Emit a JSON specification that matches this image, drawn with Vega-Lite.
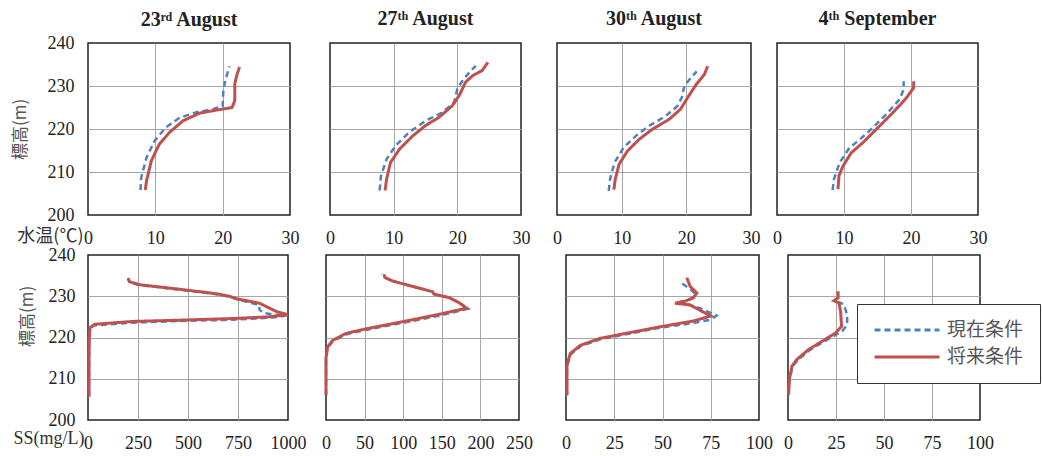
{
"$schema": "https://vega.github.io/schema/vega-lite/v6.json",
"padding": {"left": 10, "top": 8, "right": 2, "bottom": 2},
"background": "white",
"data": {"values": [
{"p":1,"c":"現在条件","o":1,"x":7.8,"z":205.8},{"p":1,"c":"現在条件","o":2,"x":7.9,"z":208.7},{"p":1,"c":"現在条件","o":3,"x":8.7,"z":213.4},{"p":1,"c":"現在条件","o":4,"x":9.9,"z":217.3},{"p":1,"c":"現在条件","o":5,"x":11.6,"z":220.4},{"p":1,"c":"現在条件","o":6,"x":13.6,"z":222.6},{"p":1,"c":"現在条件","o":7,"x":16.1,"z":223.9},{"p":1,"c":"現在条件","o":8,"x":18.6,"z":224.6},{"p":1,"c":"現在条件","o":9,"x":20.0,"z":225.4},{"p":1,"c":"現在条件","o":10,"x":20.1,"z":229.0},{"p":1,"c":"現在条件","o":11,"x":20.4,"z":231.3},{"p":1,"c":"現在条件","o":12,"x":21.0,"z":234.6},
{"p":1,"c":"将来条件","o":1,"x":8.5,"z":205.8},{"p":1,"c":"将来条件","o":2,"x":8.7,"z":208.0},{"p":1,"c":"将来条件","o":3,"x":9.4,"z":212.6},{"p":1,"c":"将来条件","o":4,"x":10.6,"z":216.5},{"p":1,"c":"将来条件","o":5,"x":12.1,"z":219.2},{"p":1,"c":"将来条件","o":6,"x":14.1,"z":221.9},{"p":1,"c":"将来条件","o":7,"x":16.6,"z":223.7},{"p":1,"c":"将来条件","o":8,"x":19.1,"z":224.4},{"p":1,"c":"将来条件","o":9,"x":21.4,"z":225.0},{"p":1,"c":"将来条件","o":10,"x":21.8,"z":226.6},{"p":1,"c":"将来条件","o":11,"x":21.8,"z":230.5},{"p":1,"c":"将来条件","o":12,"x":22.1,"z":232.5},{"p":1,"c":"将来条件","o":13,"x":22.5,"z":234.4},
{"p":2,"c":"現在条件","o":1,"x":7.8,"z":205.7},{"p":2,"c":"現在条件","o":2,"x":8.0,"z":209.1},{"p":2,"c":"現在条件","o":3,"x":8.9,"z":213.0},{"p":2,"c":"現在条件","o":4,"x":10.3,"z":216.1},{"p":2,"c":"現在条件","o":5,"x":12.4,"z":219.2},{"p":2,"c":"現在条件","o":6,"x":15.0,"z":221.9},{"p":2,"c":"現在条件","o":7,"x":17.7,"z":223.9},{"p":2,"c":"現在条件","o":8,"x":19.5,"z":226.2},{"p":2,"c":"現在条件","o":9,"x":20.0,"z":229.3},{"p":2,"c":"現在条件","o":10,"x":20.8,"z":231.2},{"p":2,"c":"現在条件","o":11,"x":21.9,"z":233.2},{"p":2,"c":"現在条件","o":12,"x":22.9,"z":234.7},
{"p":2,"c":"将来条件","o":1,"x":8.65,"z":205.7},{"p":2,"c":"将来条件","o":2,"x":8.9,"z":208.4},{"p":2,"c":"将来条件","o":3,"x":9.5,"z":212.2},{"p":2,"c":"将来条件","o":4,"x":10.9,"z":215.3},{"p":2,"c":"将来条件","o":5,"x":13.0,"z":218.4},{"p":2,"c":"将来条件","o":6,"x":15.0,"z":220.8},{"p":2,"c":"将来条件","o":7,"x":17.1,"z":222.7},{"p":2,"c":"将来条件","o":8,"x":19.2,"z":225.4},{"p":2,"c":"将来条件","o":9,"x":20.3,"z":227.8},{"p":2,"c":"将来条件","o":10,"x":21.3,"z":230.9},{"p":2,"c":"将来条件","o":11,"x":22.4,"z":232.4},{"p":2,"c":"将来条件","o":12,"x":23.9,"z":233.6},{"p":2,"c":"将来条件","o":13,"x":24.8,"z":235.5},
{"p":3,"c":"現在条件","o":1,"x":8.0,"z":205.6},{"p":3,"c":"現在条件","o":2,"x":8.2,"z":208.3},{"p":3,"c":"現在条件","o":3,"x":8.9,"z":212.2},{"p":3,"c":"現在条件","o":4,"x":10.3,"z":215.7},{"p":3,"c":"現在条件","o":5,"x":12.2,"z":218.4},{"p":3,"c":"現在条件","o":6,"x":14.2,"z":220.7},{"p":3,"c":"現在条件","o":7,"x":16.8,"z":223.0},{"p":3,"c":"現在条件","o":8,"x":18.6,"z":225.3},{"p":3,"c":"現在条件","o":9,"x":19.3,"z":227.3},{"p":3,"c":"現在条件","o":10,"x":19.7,"z":230.0},{"p":3,"c":"現在条件","o":11,"x":20.7,"z":231.9},{"p":3,"c":"現在条件","o":12,"x":21.6,"z":233.4},
{"p":3,"c":"将来条件","o":1,"x":8.8,"z":205.9},{"p":3,"c":"将来条件","o":2,"x":9.0,"z":208.3},{"p":3,"c":"将来条件","o":3,"x":9.6,"z":211.8},{"p":3,"c":"将来条件","o":4,"x":10.9,"z":214.9},{"p":3,"c":"将来条件","o":5,"x":12.7,"z":217.6},{"p":3,"c":"将来条件","o":6,"x":14.7,"z":219.9},{"p":3,"c":"将来条件","o":7,"x":17.3,"z":222.2},{"p":3,"c":"将来条件","o":8,"x":19.1,"z":224.6},{"p":3,"c":"将来条件","o":9,"x":20.2,"z":227.3},{"p":3,"c":"将来条件","o":10,"x":21.5,"z":230.3},{"p":3,"c":"将来条件","o":11,"x":22.8,"z":232.7},{"p":3,"c":"将来条件","o":12,"x":23.3,"z":234.6},
{"p":4,"c":"現在条件","o":1,"x":8.3,"z":205.8},{"p":4,"c":"現在条件","o":2,"x":8.5,"z":208.3},{"p":4,"c":"現在条件","o":3,"x":9.35,"z":212.2},{"p":4,"c":"現在条件","o":4,"x":10.8,"z":215.6},{"p":4,"c":"現在条件","o":5,"x":12.6,"z":217.9},{"p":4,"c":"現在条件","o":6,"x":14.3,"z":220.3},{"p":4,"c":"現在条件","o":7,"x":16.3,"z":223.4},{"p":4,"c":"現在条件","o":8,"x":18.3,"z":226.9},{"p":4,"c":"現在条件","o":9,"x":18.9,"z":229.2},{"p":4,"c":"現在条件","o":10,"x":18.9,"z":231.1},
{"p":4,"c":"将来条件","o":1,"x":9.1,"z":206.0},{"p":4,"c":"将来条件","o":2,"x":9.25,"z":209.1},{"p":4,"c":"将来条件","o":3,"x":9.85,"z":211.4},{"p":4,"c":"将来条件","o":4,"x":11.1,"z":214.5},{"p":4,"c":"将来条件","o":5,"x":12.8,"z":216.8},{"p":4,"c":"将来条件","o":6,"x":14.8,"z":219.9},{"p":4,"c":"将来条件","o":7,"x":17.3,"z":223.8},{"p":4,"c":"将来条件","o":8,"x":19.3,"z":227.2},{"p":4,"c":"将来条件","o":9,"x":20.4,"z":229.6},{"p":4,"c":"将来条件","o":10,"x":20.4,"z":231.1},
{"p":5,"c":"現在条件","o":1,"x":5,"z":205.7},{"p":5,"c":"現在条件","o":2,"x":5,"z":215},{"p":5,"c":"現在条件","o":3,"x":6,"z":219},{"p":5,"c":"現在条件","o":4,"x":10,"z":222.2},{"p":5,"c":"現在条件","o":5,"x":30,"z":222.9},{"p":5,"c":"現在条件","o":6,"x":225,"z":223.6},{"p":5,"c":"現在条件","o":7,"x":460,"z":224.0},{"p":5,"c":"現在条件","o":8,"x":725,"z":224.3},{"p":5,"c":"現在条件","o":9,"x":940,"z":224.9},{"p":5,"c":"現在条件","o":10,"x":990,"z":225.3},{"p":5,"c":"現在条件","o":11,"x":925,"z":225.6},{"p":5,"c":"現在条件","o":12,"x":875,"z":226.0},{"p":5,"c":"現在条件","o":13,"x":858,"z":226.7},{"p":5,"c":"現在条件","o":14,"x":855,"z":227.9},{"p":5,"c":"現在条件","o":15,"x":742,"z":229.3},{"p":5,"c":"現在条件","o":16,"x":708,"z":229.9},{"p":5,"c":"現在条件","o":17,"x":642,"z":230.5},{"p":5,"c":"現在条件","o":18,"x":475,"z":231.5},{"p":5,"c":"現在条件","o":19,"x":258,"z":232.7},{"p":5,"c":"現在条件","o":20,"x":208,"z":233.4},{"p":5,"c":"現在条件","o":21,"x":200,"z":234.3},
{"p":5,"c":"将来条件","o":1,"x":5,"z":205.7},{"p":5,"c":"将来条件","o":2,"x":5,"z":215},{"p":5,"c":"将来条件","o":3,"x":6,"z":219.2},{"p":5,"c":"将来条件","o":4,"x":10,"z":222.4},{"p":5,"c":"将来条件","o":5,"x":33,"z":223.2},{"p":5,"c":"将来条件","o":6,"x":225,"z":223.9},{"p":5,"c":"将来条件","o":7,"x":460,"z":224.2},{"p":5,"c":"将来条件","o":8,"x":725,"z":224.6},{"p":5,"c":"将来条件","o":9,"x":900,"z":225.0},{"p":5,"c":"将来条件","o":10,"x":1000,"z":225.5},{"p":5,"c":"将来条件","o":11,"x":942,"z":226.3},{"p":5,"c":"将来条件","o":12,"x":900,"z":227.3},{"p":5,"c":"将来条件","o":13,"x":858,"z":228.3},{"p":5,"c":"将来条件","o":14,"x":742,"z":229.4},{"p":5,"c":"将来条件","o":15,"x":708,"z":230.0},{"p":5,"c":"将来条件","o":16,"x":642,"z":230.6},{"p":5,"c":"将来条件","o":17,"x":475,"z":231.6},{"p":5,"c":"将来条件","o":18,"x":258,"z":232.8},{"p":5,"c":"将来条件","o":19,"x":208,"z":233.5},{"p":5,"c":"将来条件","o":20,"x":200,"z":234.4},
{"p":6,"c":"現在条件","o":1,"x":0,"z":206},{"p":6,"c":"現在条件","o":2,"x":0,"z":215},{"p":6,"c":"現在条件","o":3,"x":2,"z":217.5},{"p":6,"c":"現在条件","o":4,"x":9,"z":219.1},{"p":6,"c":"現在条件","o":5,"x":27,"z":220.8},{"p":6,"c":"現在条件","o":6,"x":53,"z":221.9},{"p":6,"c":"現在条件","o":7,"x":112,"z":224.0},{"p":6,"c":"現在条件","o":8,"x":150,"z":225.4},{"p":6,"c":"現在条件","o":9,"x":184,"z":227.0},{"p":6,"c":"現在条件","o":10,"x":172,"z":228.5},{"p":6,"c":"現在条件","o":11,"x":159,"z":229.7},{"p":6,"c":"現在条件","o":12,"x":140,"z":230.5},{"p":6,"c":"現在条件","o":13,"x":138,"z":231.1},{"p":6,"c":"現在条件","o":14,"x":112,"z":232.4},{"p":6,"c":"現在条件","o":15,"x":86,"z":233.7},{"p":6,"c":"現在条件","o":16,"x":74,"z":234.7},{"p":6,"c":"現在条件","o":17,"x":72.4,"z":235.4},
{"p":6,"c":"将来条件","o":1,"x":0,"z":206},{"p":6,"c":"将来条件","o":2,"x":0,"z":215},{"p":6,"c":"将来条件","o":3,"x":2,"z":217.7},{"p":6,"c":"将来条件","o":4,"x":8.6,"z":219.3},{"p":6,"c":"将来条件","o":5,"x":26,"z":221.0},{"p":6,"c":"将来条件","o":6,"x":52,"z":222.1},{"p":6,"c":"将来条件","o":7,"x":112,"z":224.3},{"p":6,"c":"将来条件","o":8,"x":146,"z":225.6},{"p":6,"c":"将来条件","o":9,"x":182,"z":227.1},{"p":6,"c":"将来条件","o":10,"x":172,"z":228.5},{"p":6,"c":"将来条件","o":11,"x":159,"z":229.7},{"p":6,"c":"将来条件","o":12,"x":140,"z":230.5},{"p":6,"c":"将来条件","o":13,"x":138,"z":231.1},{"p":6,"c":"将来条件","o":14,"x":112,"z":232.4},{"p":6,"c":"将来条件","o":15,"x":86,"z":233.7},{"p":6,"c":"将来条件","o":16,"x":76,"z":234.6},{"p":6,"c":"将来条件","o":17,"x":75.4,"z":235.3},
{"p":7,"c":"現在条件","o":1,"x":0.5,"z":206},{"p":7,"c":"現在条件","o":2,"x":0.5,"z":213},{"p":7,"c":"現在条件","o":3,"x":2.3,"z":215.9},{"p":7,"c":"現在条件","o":4,"x":7.6,"z":217.9},{"p":7,"c":"現在条件","o":5,"x":18,"z":219.6},{"p":7,"c":"現在条件","o":6,"x":33.5,"z":221.0},{"p":7,"c":"現在条件","o":7,"x":49,"z":222.4},{"p":7,"c":"現在条件","o":8,"x":66,"z":223.5},{"p":7,"c":"現在条件","o":9,"x":74.6,"z":224.3},{"p":7,"c":"現在条件","o":10,"x":78,"z":225.3},{"p":7,"c":"現在条件","o":11,"x":70,"z":227.0},{"p":7,"c":"現在条件","o":12,"x":63,"z":228.0},{"p":7,"c":"現在条件","o":13,"x":57,"z":228.4},{"p":7,"c":"現在条件","o":14,"x":61,"z":228.8},{"p":7,"c":"現在条件","o":15,"x":65,"z":229.5},{"p":7,"c":"現在条件","o":16,"x":67,"z":230.5},{"p":7,"c":"現在条件","o":17,"x":65,"z":231.5},{"p":7,"c":"現在条件","o":18,"x":60,"z":233.2},
{"p":7,"c":"将来条件","o":1,"x":0.5,"z":206},{"p":7,"c":"将来条件","o":2,"x":0.5,"z":213.3},{"p":7,"c":"将来条件","o":3,"x":2.2,"z":216.1},{"p":7,"c":"将来条件","o":4,"x":7.4,"z":218.1},{"p":7,"c":"将来条件","o":5,"x":17.7,"z":219.8},{"p":7,"c":"将来条件","o":6,"x":33.3,"z":221.2},{"p":7,"c":"将来条件","o":7,"x":48.8,"z":222.6},{"p":7,"c":"将来条件","o":8,"x":66,"z":224.0},{"p":7,"c":"将来条件","o":9,"x":75,"z":225.2},{"p":7,"c":"将来条件","o":10,"x":64.3,"z":227.9},{"p":7,"c":"将来条件","o":11,"x":56.5,"z":228.3},{"p":7,"c":"将来条件","o":12,"x":61.7,"z":228.8},{"p":7,"c":"将来条件","o":13,"x":66,"z":229.6},{"p":7,"c":"将来条件","o":14,"x":67.8,"z":230.8},{"p":7,"c":"将来条件","o":15,"x":64.3,"z":232.4},{"p":7,"c":"将来条件","o":16,"x":62.6,"z":234.5},
{"p":8,"c":"現在条件","o":1,"x":0.3,"z":206.1},{"p":8,"c":"現在条件","o":2,"x":0.8,"z":209.7},{"p":8,"c":"現在条件","o":3,"x":2.3,"z":212.9},{"p":8,"c":"現在条件","o":4,"x":5,"z":214.5},{"p":8,"c":"現在条件","o":5,"x":11.2,"z":216.9},{"p":8,"c":"現在条件","o":6,"x":18.3,"z":218.9},{"p":8,"c":"現在条件","o":7,"x":25.5,"z":220.8},{"p":8,"c":"現在条件","o":8,"x":28.2,"z":221.5},{"p":8,"c":"現在条件","o":9,"x":30.8,"z":223.1},{"p":8,"c":"現在条件","o":10,"x":30.8,"z":225.5},{"p":8,"c":"現在条件","o":11,"x":29.1,"z":228.0},{"p":8,"c":"現在条件","o":12,"x":26.5,"z":228.6},
{"p":8,"c":"将来条件","o":1,"x":0.3,"z":206.1},{"p":8,"c":"将来条件","o":2,"x":0.7,"z":209.9},{"p":8,"c":"将来条件","o":3,"x":2.1,"z":213.1},{"p":8,"c":"将来条件","o":4,"x":4.7,"z":214.7},{"p":8,"c":"将来条件","o":5,"x":10.8,"z":217.1},{"p":8,"c":"将来条件","o":6,"x":17.8,"z":219.1},{"p":8,"c":"将来条件","o":7,"x":24.8,"z":221.1},{"p":8,"c":"将来条件","o":8,"x":27.9,"z":222.7},{"p":8,"c":"将来条件","o":9,"x":27.4,"z":226.3},{"p":8,"c":"将来条件","o":10,"x":26.5,"z":228.4},{"p":8,"c":"将来条件","o":11,"x":23.9,"z":228.9},{"p":8,"c":"将来条件","o":12,"x":26.1,"z":229.6},{"p":8,"c":"将来条件","o":13,"x":26.1,"z":231.2}
]},
"vconcat": [
{"hconcat": [
 {"width": 202, "height": 172, "title": {"text": "23ʳᵈ August", "offset": 4},
  "transform": [{"filter": "datum.p == 1"}],
  "encoding": {
   "x": {"field": "x", "type": "quantitative", "scale": {"domain": [0, 30]}, "axis": {"values": [0,10,20,30], "title": "水温(℃)", "titleX": -5, "titleY": 21, "titleAlign": "right", "titleBaseline": "middle", "titleFontSize": 18, "titleColor": "#333", "gridOpacity": {"condition": {"test": "datum.value <= 0 || datum.value >= 30", "value": 0}, "value": 1}}},
   "y": {"field": "z", "type": "quantitative", "scale": {"domain": [200, 240]}, "axis": {"values": [200,210,220,230,240], "title": "標高(m)", "titleX": -68, "titleY": 86, "titleAngle": -90, "titleAlign": "center", "titleBaseline": "middle", "labelPadding": 14, "gridOpacity": {"condition": {"test": "datum.value <= 200 || datum.value >= 240", "value": 0}, "value": 1}}},
   "order": {"field": "o", "type": "quantitative"},
   "color": {"field": "c", "type": "nominal", "scale": {"domain": ["現在条件", "将来条件"], "range": ["#4F81BD", "#C0504D"]}, "legend": {"title": null}},
   "strokeDash": {"field": "c", "type": "nominal", "scale": {"domain": ["現在条件", "将来条件"], "range": [[6, 4], [1, 0]]}, "legend": {"title": null, "encode": {"symbols": {"update": {"strokeDash": {"signal": "datum.value === '現在条件' ? [3, 2.5] : [1, 0]"}}}}}}
  },
  "layer": [
   {"transform": [{"filter": "datum.c == '現在条件'"}], "mark": {"type": "line", "strokeWidth": 2.5}},
   {"transform": [{"filter": "datum.c == '将来条件'"}], "mark": {"type": "line", "strokeWidth": 3}}
  ]},
 {"hconcat": [
  {"width": 191, "height": 172, "title": {"text": "27ᵗʰ August", "offset": 14},
   "transform": [{"filter": "datum.p == 2"}],
   "encoding": {
    "x": {"field": "x", "type": "quantitative", "scale": {"domain": [0, 30]}, "axis": {"values": [0,10,20,30], "title": null, "gridOpacity": {"condition": {"test": "datum.value <= 0 || datum.value >= 30", "value": 0}, "value": 1}}},
    "y": {"field": "z", "type": "quantitative", "scale": {"domain": [200, 240]}, "axis": {"values": [200,210,220,230,240], "title": null, "labels": false, "gridOpacity": {"condition": {"test": "datum.value <= 200 || datum.value >= 240", "value": 0}, "value": 1}}},
    "order": {"field": "o", "type": "quantitative"},
    "color": {"field": "c", "type": "nominal", "scale": {"domain": ["現在条件", "将来条件"], "range": ["#4F81BD", "#C0504D"]}, "legend": {"title": null}},
    "strokeDash": {"field": "c", "type": "nominal", "scale": {"domain": ["現在条件", "将来条件"], "range": [[6, 4], [1, 0]]}, "legend": {"title": null}}
   },
   "layer": [
    {"transform": [{"filter": "datum.c == '現在条件'"}], "mark": {"type": "line", "strokeWidth": 2.5}},
    {"transform": [{"filter": "datum.c == '将来条件'"}], "mark": {"type": "line", "strokeWidth": 3}}
   ]},
  {"hconcat": [
   {"width": 194, "height": 172, "title": {"text": "30ᵗʰ August", "offset": 14},
    "transform": [{"filter": "datum.p == 3"}],
    "encoding": {
     "x": {"field": "x", "type": "quantitative", "scale": {"domain": [0, 30]}, "axis": {"values": [0,10,20,30], "title": null, "gridOpacity": {"condition": {"test": "datum.value <= 0 || datum.value >= 30", "value": 0}, "value": 1}}},
     "y": {"field": "z", "type": "quantitative", "scale": {"domain": [200, 240]}, "axis": {"values": [200,210,220,230,240], "title": null, "labels": false, "gridOpacity": {"condition": {"test": "datum.value <= 200 || datum.value >= 240", "value": 0}, "value": 1}}},
     "order": {"field": "o", "type": "quantitative"},
     "color": {"field": "c", "type": "nominal", "scale": {"domain": ["現在条件", "将来条件"], "range": ["#4F81BD", "#C0504D"]}, "legend": {"title": null}},
     "strokeDash": {"field": "c", "type": "nominal", "scale": {"domain": ["現在条件", "将来条件"], "range": [[6, 4], [1, 0]]}, "legend": {"title": null}}
    },
    "layer": [
     {"transform": [{"filter": "datum.c == '現在条件'"}], "mark": {"type": "line", "strokeWidth": 2.5}},
     {"transform": [{"filter": "datum.c == '将来条件'"}], "mark": {"type": "line", "strokeWidth": 3}}
    ]},
   {"width": 201, "height": 172, "title": {"text": "4ᵗʰ September", "offset": 14},
    "transform": [{"filter": "datum.p == 4"}],
    "encoding": {
     "x": {"field": "x", "type": "quantitative", "scale": {"domain": [0, 30]}, "axis": {"values": [0,10,20,30], "title": null, "gridOpacity": {"condition": {"test": "datum.value <= 0 || datum.value >= 30", "value": 0}, "value": 1}}},
     "y": {"field": "z", "type": "quantitative", "scale": {"domain": [200, 240]}, "axis": {"values": [200,210,220,230,240], "title": null, "labels": false, "gridOpacity": {"condition": {"test": "datum.value <= 200 || datum.value >= 240", "value": 0}, "value": 1}}},
     "order": {"field": "o", "type": "quantitative"},
     "color": {"field": "c", "type": "nominal", "scale": {"domain": ["現在条件", "将来条件"], "range": ["#4F81BD", "#C0504D"]}, "legend": {"title": null}},
     "strokeDash": {"field": "c", "type": "nominal", "scale": {"domain": ["現在条件", "将来条件"], "range": [[6, 4], [1, 0]]}, "legend": {"title": null}}
    },
    "layer": [
     {"transform": [{"filter": "datum.c == '現在条件'"}], "mark": {"type": "line", "strokeWidth": 2.5}},
     {"transform": [{"filter": "datum.c == '将来条件'"}], "mark": {"type": "line", "strokeWidth": 3}}
    ]}
  ], "spacing": 10}
 ], "spacing": 20}
], "spacing": 24},
{"hconcat": [
 {"width": 200, "height": 165,
  "transform": [{"filter": "datum.p == 5"}],
  "encoding": {
   "x": {"field": "x", "type": "quantitative", "scale": {"domain": [0, 1000]}, "axis": {"values": [0,250,500,750,1000], "format": "d", "title": "SS(mg/L)", "titleFont": "Liberation Serif", "titleX": -4, "titleY": 18, "titleAlign": "right", "titleBaseline": "middle", "titleFontSize": 18, "titleColor": "#333", "gridOpacity": {"condition": {"test": "datum.value <= 0 || datum.value >= 1000", "value": 0}, "value": 1}}},
   "y": {"field": "z", "type": "quantitative", "scale": {"domain": [200, 240]}, "axis": {"values": [200,210,220,230,240], "title": "標高(m)", "titleX": -61, "titleY": 61, "titleAngle": -90, "titleAlign": "center", "titleBaseline": "middle", "labelPadding": 13, "gridOpacity": {"condition": {"test": "datum.value <= 200 || datum.value >= 240", "value": 0}, "value": 1}}},
   "order": {"field": "o", "type": "quantitative"},
   "color": {"field": "c", "type": "nominal", "scale": {"domain": ["現在条件", "将来条件"], "range": ["#4F81BD", "#C0504D"]}, "legend": {"title": null}},
   "strokeDash": {"field": "c", "type": "nominal", "scale": {"domain": ["現在条件", "将来条件"], "range": [[6, 4], [1, 0]]}, "legend": {"title": null}}
  },
  "layer": [
   {"transform": [{"filter": "datum.c == '現在条件'"}], "mark": {"type": "line", "strokeWidth": 2.5}},
   {"transform": [{"filter": "datum.c == '将来条件'"}], "mark": {"type": "line", "strokeWidth": 3}}
  ]},
 {"hconcat": [
  {"width": 193, "height": 165,
   "transform": [{"filter": "datum.p == 6"}],
   "encoding": {
    "x": {"field": "x", "type": "quantitative", "scale": {"domain": [0, 250]}, "axis": {"values": [0,50,100,150,200,250], "title": null, "gridOpacity": {"condition": {"test": "datum.value <= 0 || datum.value >= 250", "value": 0}, "value": 1}}},
    "y": {"field": "z", "type": "quantitative", "scale": {"domain": [200, 240]}, "axis": {"values": [200,210,220,230,240], "title": null, "labels": false, "gridOpacity": {"condition": {"test": "datum.value <= 200 || datum.value >= 240", "value": 0}, "value": 1}}},
    "order": {"field": "o", "type": "quantitative"},
    "color": {"field": "c", "type": "nominal", "scale": {"domain": ["現在条件", "将来条件"], "range": ["#4F81BD", "#C0504D"]}, "legend": {"title": null}},
    "strokeDash": {"field": "c", "type": "nominal", "scale": {"domain": ["現在条件", "将来条件"], "range": [[6, 4], [1, 0]]}, "legend": {"title": null}}
   },
   "layer": [
    {"transform": [{"filter": "datum.c == '現在条件'"}], "mark": {"type": "line", "strokeWidth": 2.5}},
    {"transform": [{"filter": "datum.c == '将来条件'"}], "mark": {"type": "line", "strokeWidth": 3}}
   ]},
  {"hconcat": [
   {"width": 193, "height": 165,
    "transform": [{"filter": "datum.p == 7"}],
    "encoding": {
     "x": {"field": "x", "type": "quantitative", "scale": {"domain": [0, 100]}, "axis": {"values": [0,25,50,75,100], "title": null, "gridOpacity": {"condition": {"test": "datum.value <= 0 || datum.value >= 100", "value": 0}, "value": 1}}},
     "y": {"field": "z", "type": "quantitative", "scale": {"domain": [200, 240]}, "axis": {"values": [200,210,220,230,240], "title": null, "labels": false, "gridOpacity": {"condition": {"test": "datum.value <= 200 || datum.value >= 240", "value": 0}, "value": 1}}},
     "order": {"field": "o", "type": "quantitative"},
     "color": {"field": "c", "type": "nominal", "scale": {"domain": ["現在条件", "将来条件"], "range": ["#4F81BD", "#C0504D"]}, "legend": {"title": null}},
     "strokeDash": {"field": "c", "type": "nominal", "scale": {"domain": ["現在条件", "将来条件"], "range": [[6, 4], [1, 0]]}, "legend": {"title": null}}
    },
    "layer": [
     {"transform": [{"filter": "datum.c == '現在条件'"}], "mark": {"type": "line", "strokeWidth": 2.5}},
     {"transform": [{"filter": "datum.c == '将来条件'"}], "mark": {"type": "line", "strokeWidth": 3}}
    ]},
   {"width": 192, "height": 165,
    "transform": [{"filter": "datum.p == 8"}],
    "encoding": {
     "x": {"field": "x", "type": "quantitative", "scale": {"domain": [0, 100]}, "axis": {"values": [0,25,50,75,100], "title": null, "gridOpacity": {"condition": {"test": "datum.value <= 0 || datum.value >= 100", "value": 0}, "value": 1}}},
     "y": {"field": "z", "type": "quantitative", "scale": {"domain": [200, 240]}, "axis": {"values": [200,210,220,230,240], "title": null, "labels": false, "gridOpacity": {"condition": {"test": "datum.value <= 200 || datum.value >= 240", "value": 0}, "value": 1}}},
     "order": {"field": "o", "type": "quantitative"},
     "color": {"field": "c", "type": "nominal", "scale": {"domain": ["現在条件", "将来条件"], "range": ["#4F81BD", "#C0504D"]}, "legend": {"title": null}},
     "strokeDash": {"field": "c", "type": "nominal", "scale": {"domain": ["現在条件", "将来条件"], "range": [[6, 4], [1, 0]]}, "legend": {"title": null}}
    },
    "layer": [
     {"transform": [{"filter": "datum.c == '現在条件'"}], "mark": {"type": "line", "strokeWidth": 2.5}},
     {"transform": [{"filter": "datum.c == '将来条件'"}], "mark": {"type": "line", "strokeWidth": 3}}
    ]}
  ], "spacing": 7}
 ], "spacing": 26}
], "spacing": 12}
],
"spacing": -3,
"config": {
 "view": {"stroke": "#222", "strokeWidth": 1.5},
 "font": "Liberation Serif",
 "axis": {"labelFont": "Liberation Serif", "labelFontSize": 18, "labelColor": "#222", "ticks": false, "domain": false, "gridColor": "#a6a6a6", "gridWidth": 1, "labelPadding": 14, "titleFont": "Noto Sans CJK JP", "titleFontSize": 17, "titleColor": "#555", "titleFontWeight": "normal", "labelFlush": false, "labelOverlap": false},
 "title": {"font": "Liberation Serif", "fontSize": 20, "fontWeight": "bold", "color": "#222", "offset": 14, "baseline": "alphabetic"},
 "legend": {"orient": "none", "legendX": 769, "legendY": 261, "symbolType": "stroke", "symbolSize": 4225, "symbolStrokeWidth": 3, "clipHeight": 20, "labelFont": "Noto Sans CJK JP", "labelFontSize": 19, "labelColor": "#555", "padding": 16, "rowPadding": 7, "strokeColor": "#333", "fillColor": "white", "labelOffset": 6}
}
}
